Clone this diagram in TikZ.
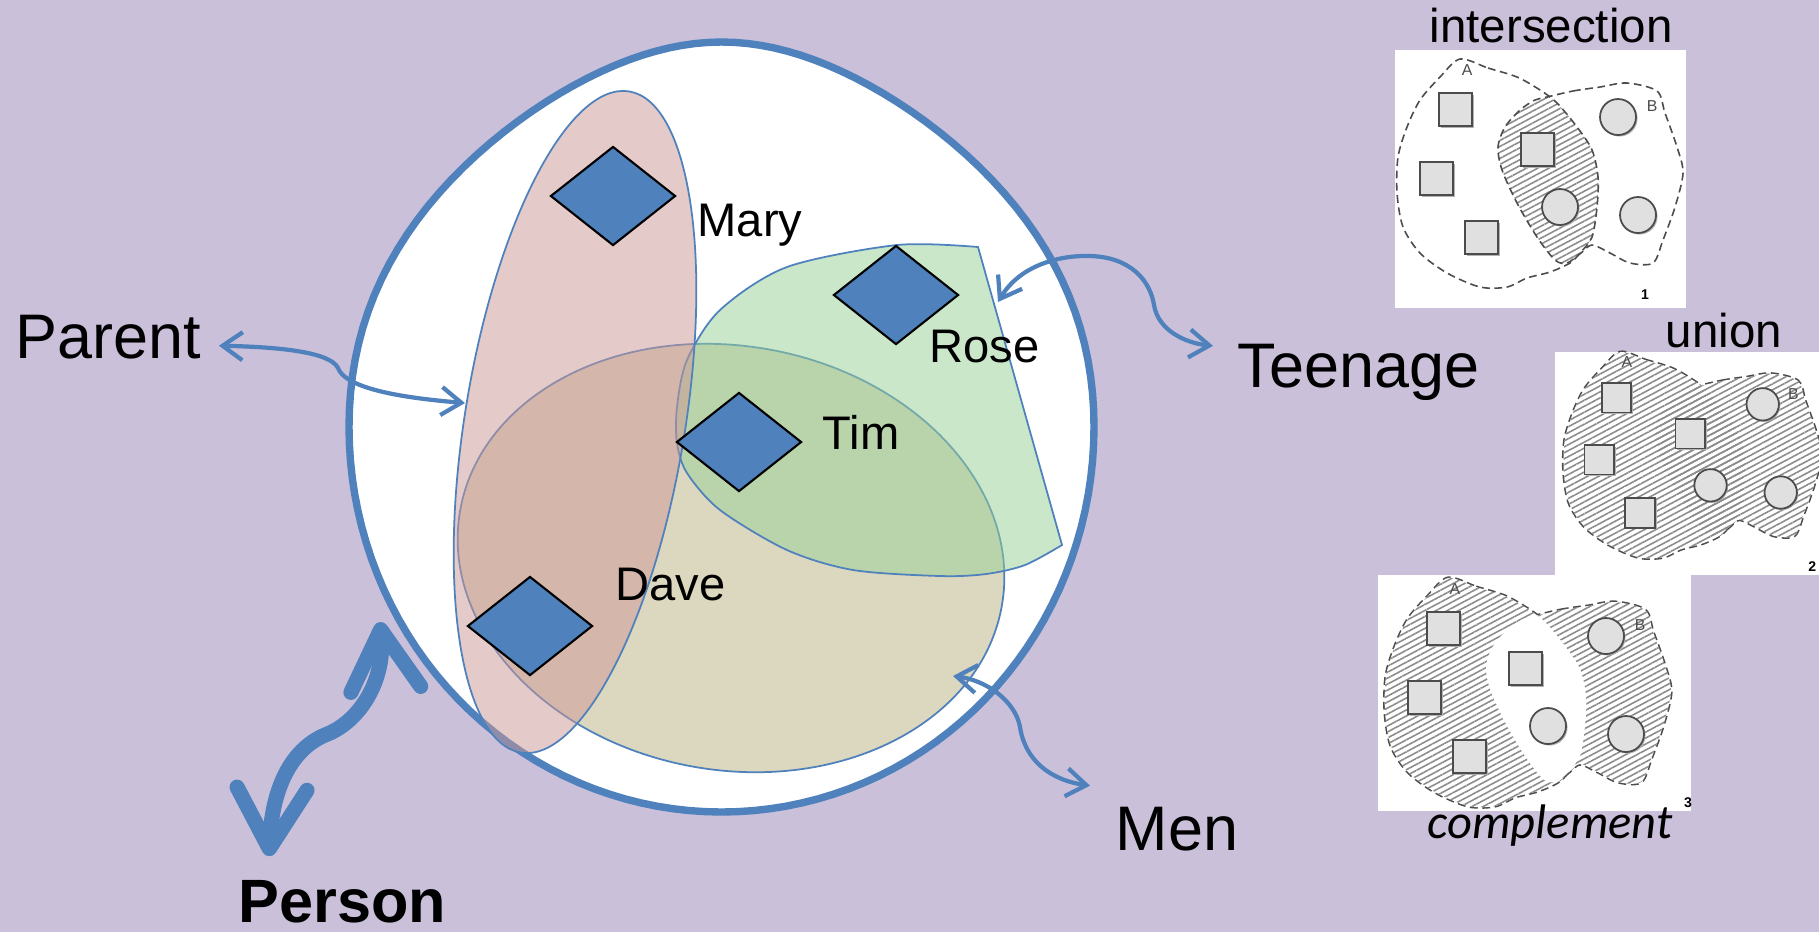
\documentclass[tikz,border=0pt]{standalone}
\usepackage{fontspec}
\setmainfont{Liberation Sans}
\newfontfamily\calibri{Carlito}
\usetikzlibrary{arrows.meta,patterns.meta,shapes.geometric,calc}

\definecolor{slidebg}{RGB}{202,192,218}
\definecolor{setblue}{RGB}{79,129,189}
\definecolor{parentpink}{RGB}{205,151,151}
\definecolor{teengreen}{RGB}{151,209,151}
\definecolor{menkhaki}{RGB}{187,177,129}

% the two sets A and B of the small pictures
\def\setA{plot[smooth cycle] coordinates {(65,9) (93,18) (122,27) (145,40) (162,53) (182,77) (197,100) (203,127) (202,157) (197,187) (185,203) (175,213) (155,222) (132,228) (112,237) (85,237) (52,223) (25,203) (8,177) (2,143) (3,107) (12,77) (25,50) (45,27)}}
\def\setB{plot[smooth cycle] coordinates {(152,47) (178,41) (205,37) (232,33) (262,41) (270,63) (282,97) (288,123) (280,157) (268,190) (258,213) (235,213) (215,203) (197,195) (186,203) (172,213) (160,210) (142,187) (122,153) (107,120) (103,97) (110,77) (125,60) (140,50)}}

% squares and circles of the small pictures
\newcommand{\setitems}{%
  \foreach \sx/\sy in {44/43, 25/112, 70/171, 126/83} {
    \fill[black!30] (\sx+2,\sy+2) rectangle ++(33,33);
    \draw[itembox] (\sx,\sy) rectangle ++(33,33);
  }
  \foreach \cx/\cy in {223/67, 165/157, 243/165} {
    \fill[black!30] (\cx+1.5,\cy+1.5) circle (18);
    \draw[itembox] (\cx,\cy) circle (18);
  }
  \node[setname] (seta) at (72,20) {A};
  \node[setname] (setb) at (257,56) {B};
}

\begin{document}
\begin{tikzpicture}[x=0.01cm, y=-0.01cm,
  bigtext/.style={font=\fontsize{17.9}{20}\selectfont, inner sep=0, anchor=base west},
  nametext/.style={font=\fontsize{13.4}{16}\selectfont, inner sep=0, anchor=base west},
  titletext/.style={font=\fontsize{13.5}{16}\selectfont, inner sep=0, anchor=base west},
  member/.style={diamond, draw=black, fill=setblue, line width=0.6pt, minimum width=1.25cm, minimum height=0.99cm, inner sep=0},
  venn/.style={draw=setblue, line width=0.5pt, fill opacity=0.5},
  link/.style={setblue, line width=1.2pt, >={Straight Barb[length=2mm,width=2.8mm]}, <->},
  bigarrow/.style={setblue, line width=4.3pt, line cap=round, >={Straight Barb[length=6mm,width=7mm,round]}, <->},
  setline/.style={draw=black!70, dash pattern=on 2.2pt off 1.3pt, line width=0.45pt},
  hatch/.style={pattern={Lines[angle=28,distance=1.5pt,line width=0.45pt]}, pattern color=black!45},
  itembox/.style={draw=black!70, fill=black!12, line width=0.5pt},
  setname/.style={font=\fontsize{4.5}{5}\selectfont, text=black!70, inner sep=0},
  setno/.style={font=\bfseries\fontsize{4}{5}\selectfont, inner sep=0}]

  % slide background
  \fill[slidebg] (0,0) rectangle (1819,932);
  \useasboundingbox (0,0) rectangle (1819,932);

  % all persons (an egg, a little pointed at the top)
  \draw[setblue, line width=2.1pt, fill=white] plot[domain=0:360, samples=145] ({721.5+372.5*cos(\x)*(1-0.2*(abs(min(sin(\x),0)))^3)}, {427+385*sin(\x)}) -- cycle;

  % Men
  \draw[venn, fill=menkhaki, rotate around={-10:(731,558)}] (731,558) ellipse (275 and 212);
  % Teenage
  \draw[venn, fill=teengreen] plot[smooth] coordinates {(1062,545) (1025,565) (986,574) (940,576) (853,570) (787,550) (720,510) (687,473) (677,443) (677,407) (687,360) (720,310) (787,267) (897,245) (978,247)} -- cycle;
  % Parent
  \draw[venn, fill=parentpink, rotate around={80.7:(575,422)}] (575,422) ellipse (335 and 110);

  % persons
  \node[member] (mary) at (613,196) {};
  \node[member] (tim) at (739,442) {};
  \node[member] (rose) at (896,295) {};
  \node[member] (dave) at (530,626) {};
  \node[nametext] (marylbl) at (697,236) {Mary};
  \node[nametext] (timlbl) at (822,449) {Tim};
  \node[nametext] (roselbl) at (929,362) {Rose};
  \node[nametext] (davelbl) at (615,600) {Dave};

  % class names
  \node[bigtext] (parent) at (15,358) {Parent};
  \node[bigtext] (teenage) at (1237,387) {Teenage};
  \node[bigtext] (men) at (1115,850) {Men};
  \node[bigtext, font=\bfseries\fontsize{17.4}{20}\selectfont] (person) at (238,922) {Person};

  % where the arrows meet the sets
  \coordinate (parentset) at (465,403);
  \coordinate (teenset) at (998,302);
  \coordinate (menset) at (953,676);
  \coordinate (personset) at (380,622);

  \draw[link] ($(parent.east)+(17,9)$) .. controls (280,347) and (330,352) .. (338,368) .. controls (344,384) and (380,396) .. (parentset);
  \draw[link] (teenset) .. controls (1020,265) and (1060,255) .. (1090,256) .. controls (1130,257) and (1150,280) .. (1154,305) .. controls (1158,330) and (1185,343) .. ($(teenage.west)+(-24,-26)$);
  \draw[link] (menset) .. controls (985,680) and (1015,700) .. (1020,727) .. controls (1025,760) and (1050,780) .. ($(men.west)+(-25,-43)$);
  \draw[bigarrow] (personset) .. controls (385,680) and (360,722) .. (325,735) .. controls (290,750) and (272,790) .. ($(person.north west)+(31,-23)$);

  % intersection
  \begin{scope}[shift={(1395,50)}]
    \fill[white] (0,0) rectangle (291,258);
    \begin{scope}
      \clip \setA;
      \fill[hatch] \setB;
    \end{scope}
    \draw[setline] \setA;
    \draw[setline] \setB;
    \setitems
    \node[setno] (no1) at (250,245) {1};
  \end{scope}

  % union
  \fill[white] (1555,352) rectangle (1819,575);
  \begin{scope}[shift={(1562,344)}, scale=0.9]
    \draw[setline, line width=0.9pt] \setA;
    \draw[setline, line width=0.9pt] \setB;
    \fill[white] \setA;
    \fill[white] \setB;
    \fill[hatch] \setA;
    \fill[hatch] \setB;
    \setitems
    \node[setno] (no2) at (278,247) {2};
  \end{scope}

  % complement
  \fill[white] (1378,575) rectangle (1691,811);
  \begin{scope}[shift={(1383,569)}]
    \draw[setline, line width=0.9pt] \setA;
    \draw[setline, line width=0.9pt] \setB;
    \fill[white] \setA;
    \fill[white] \setB;
    \fill[hatch] \setA;
    \fill[hatch] \setB;
    \begin{scope}
      \clip \setA;
      \fill[white] \setB;
    \end{scope}
    \setitems
    \node[setno] (no3) at (305,234) {3};
  \end{scope}

  \node[titletext] (intersect) at (1429,42) {intersection};
  \node[titletext] (unionlbl) at (1665,347) {union};
  \node[titletext, font=\calibri\itshape\fontsize{13.8}{16}\selectfont] (complement) at (1427,838) {complement};
\end{tikzpicture}
\end{document}
